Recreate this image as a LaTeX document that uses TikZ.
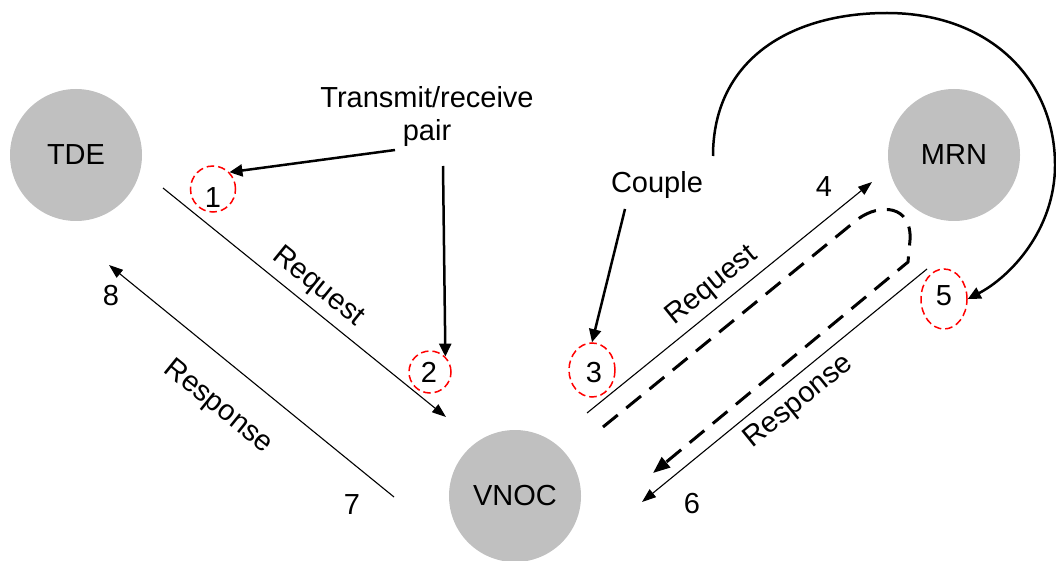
\documentclass[tikz,border=0pt]{standalone}
\usepackage{fontspec}
\setmainfont{Liberation Sans}
\usetikzlibrary{arrows.meta,shapes.geometric}
\definecolor{stgray}{RGB}{192,192,192}
\begin{document}
\begin{tikzpicture}[x=1pt,y=-1pt,
  every node/.style={font=\fontsize{29}{33}\selectfont, inner sep=0pt},
  station/.style={circle, fill=stgray, minimum size=132pt},
  ring/.style={ellipse, draw=red, line width=1.5pt, dash pattern=on 7.5pt off 4pt},
  thinarrow/.style={line width=1.1pt, -{Triangle[length=14pt,width=10pt]}},
  notearrow/.style={line width=2.5pt, -{Triangle[length=13pt,width=12pt]}},
  pathdash/.style={line width=3pt, dash pattern=on 19pt off 11pt, -{Triangle[length=17pt,width=13pt]}}]
\useasboundingbox (0,0) rectangle (1056,561);

% stations
\node[station] (TDE) at (76,155) {TDE};
\node[station] (MRN) at (954,155) {MRN};
\node[station] (VNOC) at (515,496) {VNOC};

% red dashed rings
\node[ring, minimum width=45pt, minimum height=46pt] (r1) at (213,189) {};
\node[ring, minimum width=42pt, minimum height=42pt] (r2) at (430,372) {};
\node[ring, minimum width=46pt, minimum height=54pt] (r3) at (592,370) {};
\node[ring, minimum width=46pt, minimum height=60pt] (r5) at (944,299) {};

% numbers
\node (n1) at (213,198) {1};
\node (n2) at (429,372) {2};
\node (n3) at (594,373) {3};
\node (n4) at (824,187) {4};
\node (n5) at (944,296) {5};
\node (n6) at (692,504) {6};
\node (n7) at (352,505) {7};
\node (n8) at (111,296) {8};

% free ends of the message lines
\coordinate (reqLs) at (163,188);
\coordinate (reqLe) at (446,417);
\coordinate (resLs) at (394,497);
\coordinate (resLe) at (109,265);
\coordinate (reqRs) at (587,413);
\coordinate (reqRe) at (872,182);
\coordinate (resRs) at (927,269);
\coordinate (resRe) at (642,502);

\draw[thinarrow] (reqLs) -- (reqLe);
\draw[thinarrow] (resLs) -- (resLe);
\draw[thinarrow] (reqRs) -- (reqRe);
\draw[thinarrow] (resRs) -- (resRe);

% message labels
\node[rotate=-39] (lreqL) at (318,287) {Request};
\node[rotate=-39] (lresL) at (218,407) {Response};
\node[rotate=39] (lreqR) at (712,286) {Request};
\node[rotate=39] (lresR) at (799,402) {Response};

% dashed round trip
\coordinate (dA) at (603,427);
\coordinate (dB) at (858,219);
\coordinate (dC) at (910,240);
\coordinate (dD) at (908,262);
\coordinate (dE) at (653,473);
\draw[pathdash] (dA) -- (dB) .. controls (880,203) and (912,205) .. (dC) -- (dD) -- (dE);

% annotations
\node[align=center] (tr) at (427,117) {Transmit/receive\\pair};
\node (cp) at (657,185) {Couple};

\coordinate (trA) at (395,150);
\coordinate (trB) at (443,166);
\coordinate (cpA) at (625,209);
\coordinate (arcS) at (713,156);
\draw[notearrow] (trA) -- (r1.north east);
\draw[notearrow] (trB) -- (r2.north east);
\draw[notearrow] (cpA) -- (r3.north);
\draw[notearrow] (arcS) .. controls (713,60) and (790,13) .. (887,13)
  .. controls (990,13) and (1055,80) .. (1055,165)
  .. controls (1055,230) and (1010,277) .. (r5.east);
\end{tikzpicture}
\end{document}
